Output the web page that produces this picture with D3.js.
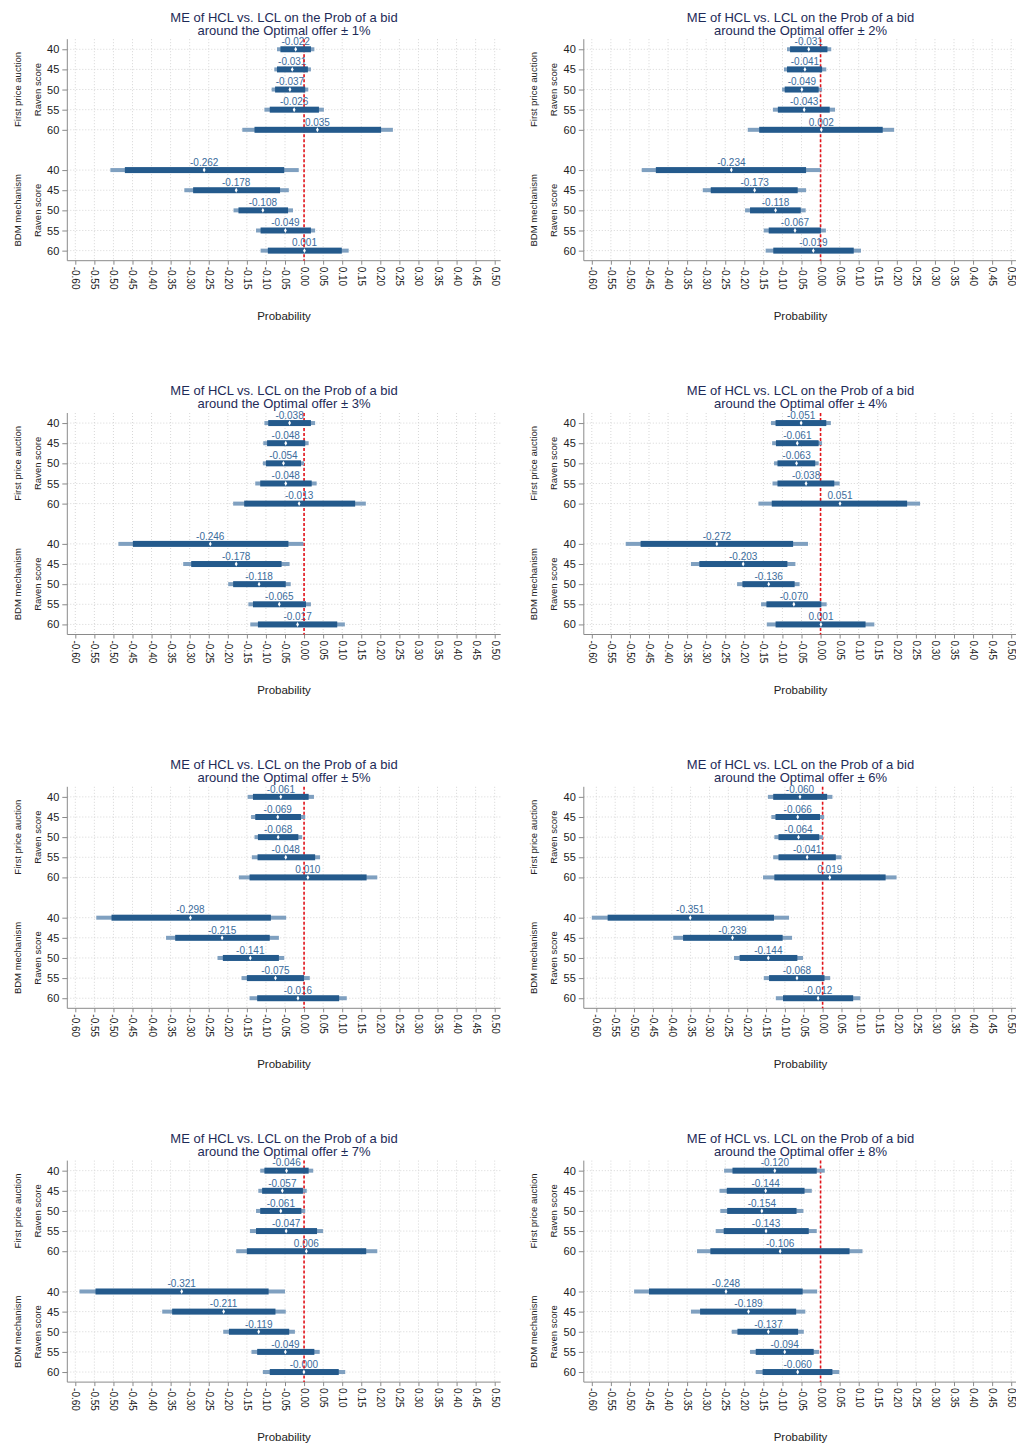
<!DOCTYPE html>
<html>
<head>
<meta charset="utf-8">
<script src="https://cdn.jsdelivr.net/npm/d3@7"></script>
<style>
  body { margin: 0; background: #fff; }
  svg { display: block; }
  text { font-family: "Liberation Sans", Arial, Helvetica, sans-serif; }
</style>
</head>
<body>
<svg id="chart" width="1016" height="1449"></svg>
<script>
// Bid window around the optimal offer, one panel each
const bandLabels = ["1%", "2%", "3%", "4%", "5%", "6%", "7%", "8%"];
const groupNames = ["First price auction", "BDM mechanism"];
const ravenScores = [40, 45, 50, 55, 60];
const xTickValues = [-0.60, -0.55, -0.50, -0.45, -0.40, -0.35, -0.30, -0.25, -0.20, -0.15, -0.10,
                     -0.05, 0.00, 0.05, 0.10, 0.15, 0.20, 0.25, 0.30, 0.35, 0.40, 0.45, 0.50];

// Marginal effects per panel: first price auction (Raven 40..60), then BDM (Raven 40..60)
const estimates = [
  [-0.022, -0.031, -0.037, -0.026, 0.035, -0.262, -0.178, -0.108, -0.049, 0.001],
  [-0.031, -0.041, -0.049, -0.043, 0.002, -0.234, -0.173, -0.118, -0.067, -0.019],
  [-0.038, -0.048, -0.054, -0.048, -0.013, -0.246, -0.178, -0.118, -0.065, -0.017],
  [-0.051, -0.061, -0.063, -0.038, 0.051, -0.272, -0.203, -0.136, -0.070, 0.001],
  [-0.061, -0.069, -0.068, -0.048, 0.010, -0.298, -0.215, -0.141, -0.075, -0.016],
  [-0.060, -0.066, -0.064, -0.041, 0.019, -0.351, -0.239, -0.144, -0.068, -0.012],
  [-0.046, -0.057, -0.061, -0.047, 0.006, -0.321, -0.211, -0.119, -0.049, -0.0004],
  [-0.120, -0.144, -0.154, -0.143, -0.106, -0.248, -0.189, -0.137, -0.094, -0.060]
];

// Inner (thick) confidence interval bounds
const innerLo = [
  [-0.062, -0.071, -0.076, -0.090, -0.130, -0.470, -0.291, -0.172, -0.114, -0.095],
  [-0.080, -0.088, -0.094, -0.112, -0.161, -0.432, -0.288, -0.185, -0.136, -0.124],
  [-0.094, -0.097, -0.100, -0.115, -0.157, -0.449, -0.296, -0.186, -0.134, -0.121],
  [-0.118, -0.117, -0.113, -0.113, -0.128, -0.472, -0.318, -0.205, -0.142, -0.118],
  [-0.134, -0.128, -0.121, -0.122, -0.143, -0.505, -0.338, -0.213, -0.150, -0.123],
  [-0.131, -0.125, -0.117, -0.117, -0.128, -0.570, -0.370, -0.220, -0.142, -0.105],
  [-0.104, -0.110, -0.115, -0.126, -0.150, -0.547, -0.346, -0.197, -0.123, -0.090],
  [-0.231, -0.246, -0.245, -0.254, -0.289, -0.450, -0.316, -0.218, -0.170, -0.152]
];
const innerHi = [
  [0.018, 0.010, 0.003, 0.039, 0.202, -0.052, -0.063, -0.042, 0.018, 0.099],
  [0.018, 0.004, -0.005, 0.024, 0.163, -0.038, -0.060, -0.052, 0.001, 0.087],
  [0.018, 0.003, -0.008, 0.020, 0.134, -0.041, -0.059, -0.048, 0.005, 0.087],
  [0.015, -0.005, -0.014, 0.036, 0.227, -0.072, -0.087, -0.068, 0.002, 0.118],
  [0.012, -0.008, -0.015, 0.029, 0.164, -0.087, -0.090, -0.066, 0.000, 0.092],
  [0.012, -0.007, -0.009, 0.035, 0.167, -0.129, -0.106, -0.067, 0.005, 0.081],
  [0.012, -0.003, -0.007, 0.034, 0.163, -0.093, -0.075, -0.039, 0.027, 0.091],
  [-0.010, -0.042, -0.063, -0.031, 0.076, -0.047, -0.064, -0.059, -0.018, 0.031]
];

// Outer (thin) confidence interval bounds
const outerLo = [
  [-0.071, -0.078, -0.085, -0.104, -0.162, -0.508, -0.314, -0.185, -0.126, -0.114],
  [-0.088, -0.096, -0.101, -0.125, -0.191, -0.469, -0.309, -0.198, -0.149, -0.144],
  [-0.104, -0.107, -0.108, -0.128, -0.186, -0.487, -0.317, -0.199, -0.146, -0.141],
  [-0.130, -0.127, -0.122, -0.126, -0.163, -0.511, -0.340, -0.219, -0.156, -0.141],
  [-0.148, -0.139, -0.130, -0.137, -0.171, -0.545, -0.362, -0.227, -0.164, -0.143],
  [-0.145, -0.136, -0.128, -0.131, -0.158, -0.612, -0.396, -0.235, -0.156, -0.124],
  [-0.115, -0.120, -0.126, -0.142, -0.178, -0.589, -0.372, -0.212, -0.138, -0.108],
  [-0.253, -0.265, -0.263, -0.275, -0.324, -0.489, -0.340, -0.233, -0.185, -0.170]
];
const outerHi = [
  [0.027, 0.018, 0.011, 0.052, 0.233, -0.014, -0.040, -0.029, 0.029, 0.117],
  [0.028, 0.015, 0.004, 0.038, 0.193, 0.000, -0.038, -0.039, 0.014, 0.106],
  [0.029, 0.012, 0.000, 0.033, 0.162, -0.002, -0.038, -0.035, 0.018, 0.107],
  [0.027, 0.004, -0.005, 0.050, 0.261, -0.033, -0.066, -0.055, 0.016, 0.141],
  [0.026, 0.003, -0.005, 0.042, 0.192, -0.047, -0.066, -0.052, 0.015, 0.112],
  [0.026, 0.004, 0.001, 0.050, 0.196, -0.089, -0.081, -0.052, 0.020, 0.100],
  [0.024, 0.007, 0.003, 0.050, 0.192, -0.050, -0.048, -0.024, 0.041, 0.108],
  [0.011, -0.023, -0.045, -0.010, 0.110, -0.009, -0.040, -0.044, -0.004, 0.049]
];

// ---- layout ----
const colStep = 516.5, rowStep = 373.8;
const axisX = 67.3, plotRight = 500.7, plotTop = 39.2, plotBottom = 260.7;
const dataLeft = 75.3, dataRight = 494.7;
// row slots: five first-price rows, one empty slot, five BDM rows
const slots = [0, 1, 2, 3, 4, 6, 7, 8, 9, 10];

const colors = {
  inner: "#245a8c",
  outer: "#7fa0c0",
  label: "#3b6c9c",
  title: "#1e2b58",
  axis: "#8a8a8a",
  grid: "#d6d6d6",
  zero: "#e3141b",
  text: "#222"
};

const fmt3 = v => v.toFixed(3);
const svg = d3.select("#chart");
svg.append("rect").attr("width", 1016).attr("height", 1449).attr("fill", "#fff");

bandLabels.forEach((band, p) => {
  const ox = (p % 2) * colStep;
  const oy = Math.floor(p / 2) * rowStep;
  const g = svg.append("g").attr("transform", `translate(${ox},${oy})`);

  const xMin = Math.min(-0.6, d3.min(outerLo[p]));
  const x = d3.scaleLinear().domain([xMin, 0.5]).range([dataLeft, dataRight]);
  const y = d3.scaleLinear().domain([-0.5, 10.5]).range([plotTop, plotBottom]);

  const rows = estimates[p].map((est, i) => ({
    est, slot: slots[i],
    iLo: innerLo[p][i], iHi: innerHi[p][i],
    oLo: outerLo[p][i], oHi: outerHi[p][i]
  }));

  // dotted grid
  g.append("g").selectAll("line.v").data(xTickValues).join("line")
    .attr("x1", d => x(d)).attr("x2", d => x(d))
    .attr("y1", plotTop).attr("y2", plotBottom)
    .attr("stroke", colors.grid).attr("stroke-width", 1).attr("stroke-dasharray", "1,2");
  g.append("g").selectAll("line.h").data(slots).join("line")
    .attr("x1", axisX).attr("x2", plotRight)
    .attr("y1", d => y(d)).attr("y2", d => y(d))
    .attr("stroke", colors.grid).attr("stroke-width", 1).attr("stroke-dasharray", "1,2");

  // titles
  const cx = (axisX + plotRight) / 2;
  g.append("text").attr("x", cx).attr("y", 21.5).attr("text-anchor", "middle")
    .attr("font-size", 13).attr("fill", colors.title)
    .text("ME of HCL vs. LCL on the Prob of a bid");
  g.append("text").attr("x", cx).attr("y", 34.5).attr("text-anchor", "middle")
    .attr("font-size", 13).attr("fill", colors.title)
    .text(`around the Optimal offer \u00b1 ${band}`);

  // x axis
  const xAxis = d3.axisBottom(x).tickValues(xTickValues)
    .tickFormat(d => d.toFixed(2)).tickSize(4).tickSizeOuter(0);
  const gx = g.append("g").attr("transform", `translate(0,${plotBottom})`).call(xAxis);
  gx.select(".domain").remove();
  gx.selectAll(".tick line").attr("stroke", colors.axis);
  gx.selectAll(".tick text")
    .attr("transform", "rotate(90)")
    .attr("x", 6).attr("y", 0).attr("dy", "0.35em")
    .attr("text-anchor", "start")
    .attr("font-size", 10).attr("fill", colors.text)
    .style("font-family", "'Liberation Sans', Arial, sans-serif");
  g.append("line").attr("x1", axisX).attr("x2", plotRight)
    .attr("y1", plotBottom).attr("y2", plotBottom)
    .attr("stroke", colors.axis).attr("stroke-width", 1);

  // y axis
  const yAxis = d3.axisLeft(y).tickValues(slots)
    .tickFormat((d, i) => ravenScores[i % 5]).tickSize(5).tickSizeOuter(0);
  const gy = g.append("g").attr("transform", `translate(${axisX},0)`).call(yAxis);
  gy.select(".domain").remove();
  gy.selectAll(".tick line").attr("stroke", colors.axis);
  gy.selectAll(".tick text").attr("x", -8).attr("font-size", 11).attr("fill", colors.text)
    .style("font-family", "'Liberation Sans', Arial, sans-serif");
  g.append("line").attr("x1", axisX).attr("x2", axisX)
    .attr("y1", plotTop).attr("y2", plotBottom)
    .attr("stroke", colors.axis).attr("stroke-width", 1);

  // group titles on the left
  groupNames.forEach((name, k) => {
    const cy = (y(slots[k * 5]) + y(slots[k * 5 + 4])) / 2;
    g.append("text").attr("transform", `translate(20.5,${cy}) rotate(-90)`)
      .attr("text-anchor", "middle").attr("font-size", 9.5).attr("fill", colors.text)
      .text(name);
    g.append("text").attr("transform", `translate(40.5,${cy}) rotate(-90)`)
      .attr("text-anchor", "middle").attr("font-size", 9.5).attr("fill", colors.text)
      .text("Raven score");
  });

  // x axis title
  g.append("text").attr("x", cx).attr("y", 320).attr("text-anchor", "middle")
    .attr("font-size", 11.5).attr("fill", colors.text).text("Probability");

  // value labels
  g.append("g").selectAll("text").data(rows).join("text")
    .attr("x", d => x(d.est)).attr("y", d => y(d.slot) - 4.2)
    .attr("text-anchor", "middle").attr("font-size", 10).attr("fill", colors.label)
    .text(d => fmt3(d.est));

  // zero reference line
  g.append("line").attr("x1", x(0)).attr("x2", x(0))
    .attr("y1", plotTop).attr("y2", plotBottom)
    .attr("stroke", colors.zero).attr("stroke-width", 1.6).attr("stroke-dasharray", "3,2");

  // confidence bars
  g.append("g").selectAll("rect").data(rows).join("rect")
    .attr("x", d => x(d.oLo)).attr("width", d => x(d.oHi) - x(d.oLo))
    .attr("y", d => y(d.slot) - 2).attr("height", 4)
    .attr("fill", colors.outer);
  g.append("g").selectAll("rect").data(rows).join("rect")
    .attr("x", d => x(d.iLo)).attr("width", d => x(d.iHi) - x(d.iLo))
    .attr("y", d => y(d.slot) - 3).attr("height", 6)
    .attr("fill", colors.inner);

  // point estimates
  g.append("g").selectAll("path").data(rows).join("path")
    .attr("transform", d => `translate(${x(d.est)},${y(d.slot)})`)
    .attr("d", d3.symbol(d3.symbolDiamond, 7))
    .attr("fill", "#fff");
});
</script>
</body>
</html>
